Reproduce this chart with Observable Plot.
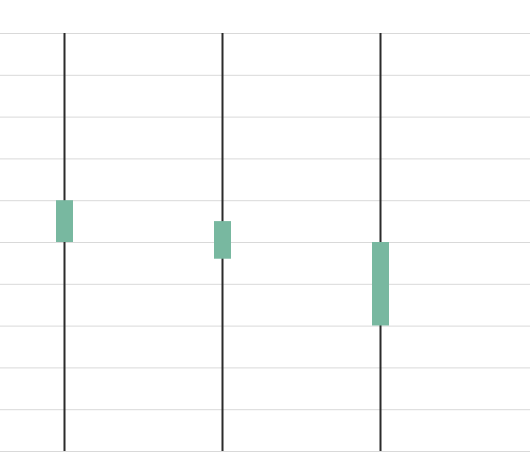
<!DOCTYPE html>
<html>
<head>
<meta charset="utf-8">
<script src="https://cdn.jsdelivr.net/npm/d3@7"></script>
<script src="https://cdn.jsdelivr.net/npm/@observablehq/plot@0.6"></script>
<style>
  html, body { margin: 0; padding: 0; background: #fff; }
</style>
</head>
<body>
<div id="chart"></div>
<script>
const categories = ["A", "B", "C"];
const lows   = [0, 0, 0];
const highs  = [100, 100, 100];
const opens  = [60, 55, 50];
const closes = [50, 46, 30];
const yTicks = [0, 10, 20, 30, 40, 50, 60, 70, 80, 90, 100];

const data = categories.map((c, i) => ({
  cat: c, low: lows[i], high: highs[i], open: opens[i], close: closes[i]
}));

const chart = Plot.plot({
  width: 530,
  height: 462,
  marginTop: 33,
  marginBottom: 11,
  marginLeft: 0,
  marginRight: 0,
  style: { background: "#fff" },
  x: { type: "band", domain: categories, padding: 0, range: [-15, 459], axis: null },
  y: { domain: [0, 100], axis: null },
  marks: [
    Plot.ruleY(yTicks, { stroke: "#d9d9d9", strokeWidth: 1 }),
    Plot.ruleX(data, { x: "cat", y1: "low", y2: "high", stroke: "#2b2b2b", strokeWidth: 2 }),
    Plot.ruleX(data, { x: "cat", y1: "open", y2: "close", stroke: "#78b8a0", strokeWidth: 17, strokeLinecap: "butt" })
  ]
});
document.getElementById("chart").appendChild(chart);
</script>
</body>
</html>
